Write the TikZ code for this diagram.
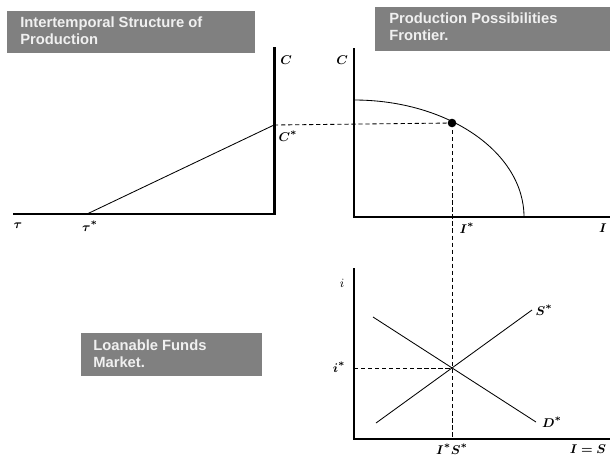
\documentclass[tikz,border=0pt]{standalone}
\usepackage{amsmath,bm}
\usepackage{fontspec}
\newfontfamily\boxfont{Liberation Sans}
\usetikzlibrary{calc}
\definecolor{BoxGray}{RGB}{128,128,128}
\definecolor{BoxText}{RGB}{240,240,240}

\tikzset{
  axis/.style={line width=1.5pt},
  curve/.style={line width=0.6pt},
  guide/.style={dashed,line width=0.6pt,dash pattern=on 3pt off 2pt},
  boxtext/.style={anchor=north west,align=left,text=BoxText,inner sep=0pt,
    font=\boxfont\bfseries\fontsize{10.5}{12}\selectfont},
  lab/.style={font=\fontsize{9.5}{11}\selectfont,inner sep=1pt}
}

\begin{document}
\begin{tikzpicture}[x=0.025cm,y=-0.025cm]
  \useasboundingbox (0,0) rectangle (610,456);

  % title boxes
  \fill[BoxGray] (7,11) rectangle (255,53);
  \node[boxtext] (tstruct) at (20,17) {Intertemporal Structure of\\Production};
  \fill[BoxGray] (375,7) rectangle (610,51);
  \node[boxtext] (tppf) at (389,13) {Production Possibilities\\Frontier.};
  \fill[BoxGray] (81,333) rectangle (262,376);
  \node[boxtext] (tlf) at (93,340) {Loanable Funds\\Market.};

  % intertemporal structure
  \coordinate (tauS) at (87,214);
  \coordinate (cS) at (274,125);
  \draw[axis] (13,214) -- (274.5,214) -- (274.5,47);
  \draw[curve] (tauS) -- (cS);
  \node[lab] at (286,60) {$\bm{C}$};
  \node[lab] at (288,136) {$\bm{C^{*}}$};
  \node[lab] at (18,226) {$\bm{\tau}$};
  \node[lab] at (90,226) {$\bm{\tau^{*}}$};

  % production possibilities frontier
  \coordinate (eq) at (452,123);
  \draw[axis] (354,48) -- (354,217) -- (610,217);
  \draw[curve] (354,100) arc[start angle=90,end angle=0,x radius=170,y radius=-117];
  \draw[guide] (cS) -- (eq);
  \fill (eq) circle[radius=4.3];
  \node[lab] at (342,60) {$\bm{C}$};
  \node[lab] at (467,228) {$\bm{I^{*}}$};
  \node[lab] at (603,228) {$\bm{I}$};

  % loanable funds market
  \coordinate (lf) at (451,368);
  \draw[axis] (354,268) -- (354,439) -- (610,439);
  \draw[curve] (376,423) -- (532,310);
  \draw[curve] (373,317) -- (536,422);
  \draw[guide] (eq) -- (452,439);
  \draw[guide] (354,368) -- (lf);
  \node[lab] at (342,283) {$i$};
  \node[lab] at (339,367) {$\bm{i^{*}}$};
  \node[lab] at (544,310) {$\bm{S^{*}}$};
  \node[lab] at (552,422) {$\bm{D^{*}}$};
  \node[lab] at (452,449) {$\bm{I^{*}S^{*}}$};
  \node[lab] at (588,449) {$\bm{I=S}$};
\end{tikzpicture}
\end{document}
